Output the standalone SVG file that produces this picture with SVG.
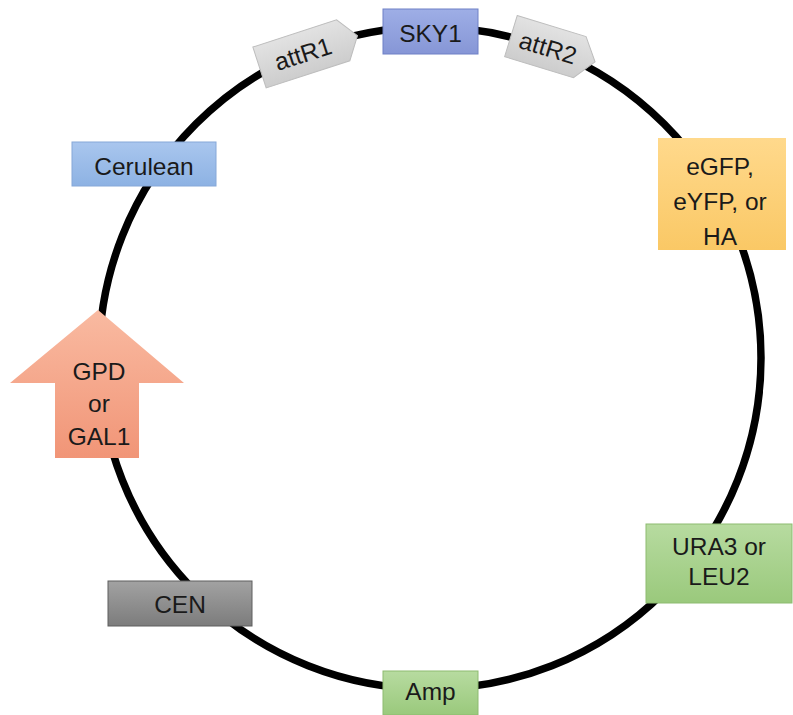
<svg xmlns="http://www.w3.org/2000/svg" width="793" height="715" viewBox="0 0 793 715">
<defs>
<linearGradient id="gBlue" x1="0" y1="0" x2="0" y2="1"><stop offset="0" stop-color="#a9c6ee"/><stop offset="1" stop-color="#8db2e3"/></linearGradient>
<linearGradient id="gSky" x1="0" y1="0" x2="0" y2="1"><stop offset="0" stop-color="#9eaee6"/><stop offset="1" stop-color="#8696d6"/></linearGradient>
<linearGradient id="gYel" x1="0" y1="0" x2="0" y2="1"><stop offset="0" stop-color="#ffd98c"/><stop offset="1" stop-color="#fac865"/></linearGradient>
<linearGradient id="gSal" x1="0" y1="0" x2="0" y2="1"><stop offset="0" stop-color="#f9baa1"/><stop offset="1" stop-color="#f19577"/></linearGradient>
<linearGradient id="gGray" x1="0" y1="0" x2="0" y2="1"><stop offset="0" stop-color="#a2a2a2"/><stop offset="1" stop-color="#7c7c7c"/></linearGradient>
<linearGradient id="gGreen" x1="0" y1="0" x2="0" y2="1"><stop offset="0" stop-color="#b7dba0"/><stop offset="1" stop-color="#9ac97c"/></linearGradient>
<linearGradient id="gAtt" x1="0" y1="0" x2="0" y2="1"><stop offset="0" stop-color="#e2e2e2"/><stop offset="1" stop-color="#cdcdcd"/></linearGradient>
</defs>
<style>
text{font-family:"Liberation Sans","Open Sans",Arial,sans-serif;font-size:24.5px;fill:#1a1a1a;text-anchor:middle}
.bl{fill:url(#gBlue);stroke:#86a8d8;stroke-width:1}
.sky{fill:url(#gSky);stroke:#6e80c6;stroke-width:1}
.yel{fill:url(#gYel);stroke:none}
.sal{fill:url(#gSal);stroke:none}
.gry{fill:url(#gGray);stroke:#5e5e5e;stroke-width:1}
.grn{fill:url(#gGreen);stroke:#8dbb70;stroke-width:1}
.att{fill:url(#gAtt);stroke:#bdbdbd;stroke-width:1}
</style>
<g id="connectors">
<circle cx="430" cy="358" r="331" fill="none" stroke="#000" stroke-width="7.5"/>
</g>
<g id="attR1" transform="translate(308.5,51.6) rotate(-18)">
<polygon class="att" points="-51.5,-21.5 36.5,-21.5 51.5,0 36.5,21.5 -51.5,21.5"/>
<text x="-6" y="9">attR1</text>
</g>
<g id="SKY1">
<rect class="sky" x="383" y="9" width="95" height="45"/>
<text x="430.5" y="42">SKY1</text>
</g>
<g id="attR2" transform="translate(553,49) rotate(17)">
<polygon class="att" points="-44,-21.5 28,-21.5 44,0 28,21.5 -44,21.5"/>
<text x="-5" y="9">attR2</text>
</g>
<g id="Cerulean">
<rect class="bl" x="72" y="142" width="144" height="44"/>
<text x="144" y="175">Cerulean</text>
</g>
<g id="eGFP">
<rect class="yel" x="658" y="138" width="128" height="112"/>
<text x="720" y="175">eGFP,</text>
<text x="720" y="210">eYFP, or</text>
<text x="720" y="245">HA</text>
</g>
<g id="GPD">
<polygon class="sal" points="98,310 184,383 139,383 139,458 55,458 55,383 10,383"/>
<text x="99" y="380">GPD</text>
<text x="99" y="412">or</text>
<text x="99" y="445">GAL1</text>
</g>
<g id="CEN">
<rect class="gry" x="108" y="581" width="144" height="45"/>
<text x="180" y="613">CEN</text>
</g>
<g id="URA3">
<rect class="grn" x="646" y="524" width="146" height="79"/>
<text x="719" y="555">URA3 or</text>
<text x="719" y="585">LEU2</text>
</g>
<g id="Amp">
<rect class="grn" x="383" y="671" width="95" height="44"/>
<text x="430.5" y="700">Amp</text>
</g>
</svg>
